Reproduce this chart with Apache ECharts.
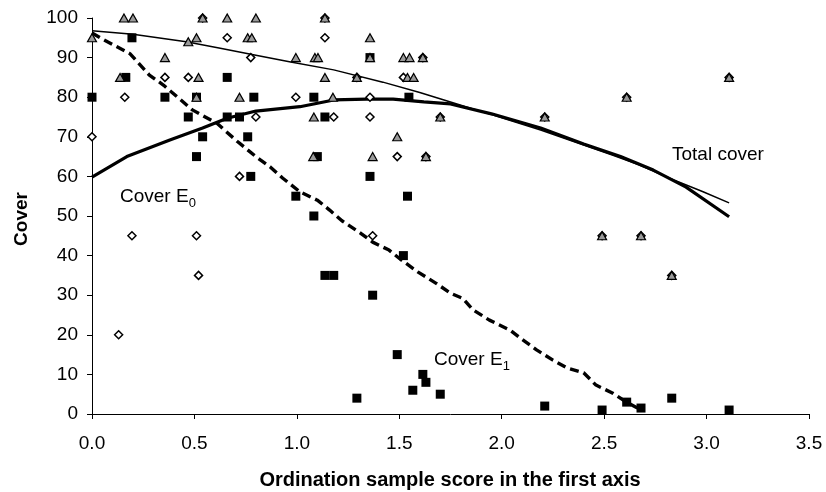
<!DOCTYPE html>
<html>
<head>
<meta charset="utf-8">
<script src="https://cdn.jsdelivr.net/npm/echarts@6/dist/echarts.min.js"></script>
<style>
html,body{margin:0;padding:0;background:#fff;}
#chart{width:826px;height:492px;}
</style>
</head>
<body>
<div id="chart"></div>
<script>
// ---- data ----
var xTicks = [0, 0.5, 1.0, 1.5, 2.0, 2.5, 3.0, 3.5];
var yTicks = [0, 10, 20, 30, 40, 50, 60, 70, 80, 90, 100];

// Total cover (grey triangles)
var totalPts = [
  [0.156,100],[0.20,100],[0.54,100],[0.66,100],[0.80,100],[1.137,100],
  [0,95],[0.47,94],[0.51,95],[0.76,95],[0.78,95],[1.357,95],
  [0.356,90],[0.995,90],[1.088,90],[1.103,90],[1.357,90],[1.52,90],[1.55,90],[1.615,90],
  [0.137,85],[0.52,85],[1.137,85],[1.293,85],[1.54,85],[1.57,85],[3.11,85],
  [0.51,80],[0.72,80],[1.176,80],[2.61,80],
  [1.083,75],[1.70,75],[2.21,75],
  [1.49,70],
  [1.08,65],[1.37,65],[1.63,65],
  [2.49,45],[2.68,45],[2.83,35]
];

// Cover E0 (open diamonds)
var e0Pts = [
  [0,70],[0.13,20],[0.16,80],[0.195,45],[0.356,85],[0.47,85],[0.51,45],[0.52,35],
  [0.54,100],[0.66,95],[0.72,60],[0.775,90],[0.80,75],[0.995,80],[1.137,95],[1.137,100],
  [1.18,75],[1.293,85],[1.357,80],[1.357,75],[1.37,45],[1.49,65],[1.52,85],[1.615,90],
  [1.63,65],[1.70,75],[2.21,75],[2.61,80],[3.11,85],[2.49,45],[2.68,45],[2.83,35]
];

// Cover E1 (black squares)
var e1Pts = [
  [0,80],[0.165,85],[0.195,95],[0.356,80],[0.47,75],[0.51,80],[0.51,65],[0.54,70],
  [0.66,85],[0.66,75],[0.72,75],[0.76,70],[0.775,60],[0.79,80],[0.995,55],[1.083,80],
  [1.083,50],[1.10,65],[1.137,75],[1.137,35],[1.18,35],[1.357,90],[1.357,60],[1.37,30],
  [1.49,15],[1.52,40],[1.54,55],[1.547,80],[1.566,6],[1.615,10],[1.63,8],[1.70,5],
  [1.293,4],[2.21,2],[2.49,1],[2.61,3],[2.68,1.5],[2.83,4],[3.11,1]
];

// fitted curves
var totalFit = [
  [0,96.8],[0.2,95.9],[0.46,94.0],[0.62,92.4],[0.8,90.6],[0.97,88.9],[1.18,86.9],
  [1.42,83.8],[1.6,81.2],[1.75,78.8],[1.95,75.6],[2.19,71.7],[2.4,67.9],[2.54,65.4],
  [2.67,62.9],[2.84,59.1],[2.98,56.2],[3.11,53.3]
];
var e0Fit = [
  [0,59.8],[0.17,65],[0.38,69.2],[0.54,72.2],[0.66,74.7],[0.8,76.5],[1.015,77.6],
  [1.18,79.3],[1.34,79.5],[1.47,79.5],[1.62,78.8],[1.75,78.3],[1.95,75.8],[2.19,72.2],
  [2.4,68.2],[2.58,65.0],[2.74,61.6],[2.9,57.3],[3.11,49.8]
];
var e1Fit = [
  [0,96.2],[0.05,94.7],[0.185,91],[0.28,85.6],[0.35,83],[0.49,76.8],[0.61,73.4],
  [0.71,68.8],[0.80,65],[0.87,62.4],[0.93,59.6],[1.015,56.1],[1.10,54],[1.16,51.5],
  [1.22,48.8],[1.31,45.7],[1.37,43.4],[1.45,41.4],[1.51,38.9],[1.59,35.9],[1.68,33],
  [1.75,30.5],[1.81,29.2],[1.86,26.3],[1.94,23.7],[2.04,21.2],[2.09,19.2],[2.17,16.2],
  [2.25,13.6],[2.32,11.6],[2.40,10.4],[2.46,7.3],[2.54,5.3],[2.61,3],[2.68,1]
];

var FONT = '"Liberation Sans", Arial, sans-serif';
var chart = echarts.init(document.getElementById('chart'), null, {renderer: 'canvas'});

var option = {
  backgroundColor: '#fff',
  animation: false,
  grid: {left: 92, right: 17, top: 18, bottom: 78, containLabel: false},
  xAxis: {
    type: 'value', min: xTicks[0], max: xTicks[xTicks.length - 1], interval: 0.5,
    axisLine: {show: true, onZero: false, lineStyle: {color: '#000', width: 1}},
    axisTick: {show: true, inside: false, length: 5, lineStyle: {color: '#000'}},
    axisLabel: {margin: 20, fontFamily: FONT, fontSize: 19, color: '#000',
      formatter: function (v) { return v.toFixed(1); }},
    splitLine: {show: false}
  },
  yAxis: {
    type: 'value', min: yTicks[0], max: yTicks[yTicks.length - 1], interval: 10,
    axisLine: {show: true, onZero: false, lineStyle: {color: '#000', width: 1}},
    axisTick: {show: true, inside: false, length: 5, lineStyle: {color: '#000'}},
    axisLabel: {margin: 14, fontFamily: FONT, fontSize: 19, color: '#000'},
    splitLine: {show: false}
  },
  series: [
    {type: 'line', data: totalFit, showSymbol: false, smooth: false, z: 3,
     lineStyle: {color: '#000', width: 1.5}},
    {type: 'line', data: e0Fit, showSymbol: false, smooth: false, z: 3,
     lineStyle: {color: '#000', width: 3.2}},
    {type: 'line', data: e1Fit, showSymbol: false, smooth: false, z: 3,
     lineStyle: {color: '#000', width: 3.4, type: [9, 5]}},
    {type: 'scatter', data: e1Pts, symbol: 'rect', symbolSize: 9, z: 4,
     itemStyle: {color: '#000', borderColor: '#000', borderWidth: 0, opacity: 1}},
    {type: 'scatter', data: e0Pts, symbol: 'diamond', symbolSize: 8, z: 5,
     itemStyle: {color: '#fff', borderColor: '#000', borderWidth: 1.5, opacity: 1}},
    {type: 'scatter', data: totalPts, symbol: 'triangle', symbolSize: [9, 8], z: 6,
     itemStyle: {color: '#9a9a9a', borderColor: '#000', borderWidth: 1.2, opacity: 1}}
  ],
  graphic: [
    {type: 'text', z: 10, x: 450, y: 480,
     style: {text: 'Ordination sample score in the first axis', font: 'bold 20px ' + FONT,
       fill: '#000', textAlign: 'center', textVerticalAlign: 'middle'}},
    {type: 'text', z: 10, x: 22, y: 219, rotation: Math.PI / 2,
     style: {text: 'Cover', font: 'bold 19px ' + FONT, fill: '#000',
       textAlign: 'center', textVerticalAlign: 'middle'}},
    {type: 'text', z: 10, x: 672, y: 155,
     style: {text: 'Total cover', font: '19px ' + FONT, fill: '#000',
       textAlign: 'left', textVerticalAlign: 'middle'}},
    {type: 'text', z: 10, x: 120, y: 197,
     style: {text: '{a|Cover E}{s|0}', textAlign: 'left', textVerticalAlign: 'middle',
       rich: {a: {fontFamily: FONT, fontSize: 19, color: '#000'},
              s: {fontFamily: FONT, fontSize: 13, color: '#000', padding: [12, 0, 0, 0]}}}},
    {type: 'text', z: 10, x: 434, y: 360,
     style: {text: '{a|Cover E}{s|1}', textAlign: 'left', textVerticalAlign: 'middle',
       rich: {a: {fontFamily: FONT, fontSize: 19, color: '#000'},
              s: {fontFamily: FONT, fontSize: 13, color: '#000', padding: [12, 0, 0, 0]}}}}
  ]
};
chart.setOption(option);
</script>
</body>
</html>
